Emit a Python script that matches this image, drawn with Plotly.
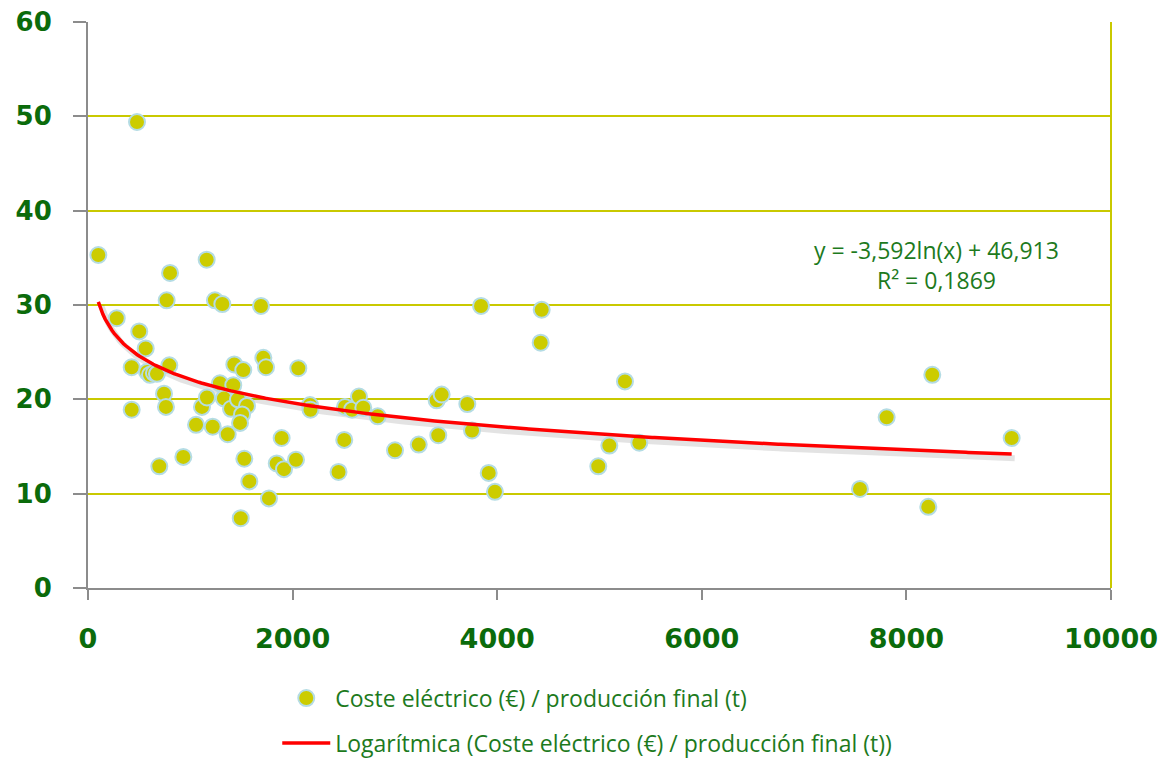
import numpy as np
import plotly.graph_objects as go

# Producción final (t) y coste eléctrico por tonelada (€/t)
produccion = [101, 479, 281, 501, 564, 427, 427, 577, 606, 645, 674, 795, 743, 762, 697,
              802, 769, 1160, 1241, 1313, 1691, 932, 1056, 1114, 1163, 1219, 1290, 1329,
              1420, 1398, 1366, 1430, 1518, 1466, 1554, 1506, 1486, 1528, 1577, 1493,
              1714, 1740, 1769, 1845, 1893, 1916, 2033, 2056, 2170, 2175, 2449, 2505,
              2512, 2581, 2649, 2691, 2832, 3001, 3233, 3424, 3408, 3457, 3708, 3754,
              3842, 3917, 3978, 4435, 4425, 4988, 5096, 5249, 5389, 7546, 7807, 8214,
              8253, 9029]
coste = [35.3, 49.4, 28.6, 27.2, 25.4, 23.4, 18.9, 22.9, 22.6, 22.8, 22.7, 23.6, 20.6, 19.2, 12.9,
         33.4, 30.5, 34.8, 30.5, 30.1, 29.9, 13.9, 17.3, 19.2, 20.2, 17.1, 21.7, 20.1,
         21.5, 19.0, 16.3, 23.7, 23.1, 20.0, 19.3, 18.4, 17.5, 13.7, 11.3, 7.4,
         24.4, 23.4, 9.5, 13.2, 15.9, 12.6, 13.6, 23.3, 19.4, 18.9, 12.3, 15.7,
         19.2, 18.9, 20.3, 19.1, 18.2, 14.6, 15.2, 16.2, 19.9, 20.5, 19.5, 16.7,
         29.9, 12.2, 10.2, 29.5, 26.0, 12.9, 15.1, 21.9, 15.4, 10.5, 18.1, 8.6,
         22.6, 15.9]

# Ajuste logarítmico: y = a ln(x) + b
coef_a = -3.592
coef_b = 46.913
r2 = 0.1869

x_tick_vals = [0, 2000, 4000, 6000, 8000, 10000]
x_tick_text = ["0", "2000", "4000", "6000", "8000", "10000"]
y_tick_vals = [0, 10, 20, 30, 40, 50, 60]

GREEN_DARK = "#0b6b0b"
GREEN_TEXT = "#1d7a1d"
GRID = "#c9c900"
AXIS = "#8c8c8c"
TEXT_FONT = "Open Sans"

x_fit = np.linspace(min(produccion), max(produccion), 400)
y_fit = coef_a * np.log(x_fit) + coef_b

fig = go.Figure()

# soft shadow under the trend line
fig.add_trace(go.Scatter(
    x=x_fit + 30, y=y_fit - 0.45, mode="lines",
    line=dict(color="rgba(0,0,0,0.11)", width=6),
    hoverinfo="skip", showlegend=False,
))

fig.add_trace(go.Scatter(
    x=produccion, y=coste, mode="markers",
    name="Coste eléctrico (€) / producción final (t)",
    legendgroup="a",
    marker=dict(color="#cccc00", size=16, line=dict(color="#b4dce4", width=2)),
))

fig.add_trace(go.Scatter(
    x=x_fit, y=y_fit, mode="lines",
    name="Logarítmica (Coste eléctrico (€) / producción final (t))",
    legendgroup="b",
    line=dict(color="#ff0000", width=3.5),
))

fig.add_annotation(
    x=0.829, y=0.571, xref="paper", yref="paper",
    xanchor="center", yanchor="middle",
    text=f"y = {coef_a:.3f}ln(x) + {coef_b:.3f}".replace(".", ",")
         + "<br>" + f"R² = {r2:.4f}".replace(".", ","),
    showarrow=False, align="center",
    font=dict(family=TEXT_FONT, size=23, color=GREEN_TEXT),
)

# right border of the plot area
fig.add_shape(type="line", xref="paper", yref="paper", x0=1, x1=1, y0=0, y1=1,
              line=dict(color=GRID, width=2))

fig.update_layout(
    width=1162, height=760,
    margin=dict(l=88, r=51, t=22, b=172, autoexpand=False),
    paper_bgcolor="white", plot_bgcolor="white",
    showlegend=True,
    legend=dict(
        x=0.185, y=-0.312, xanchor="left", yanchor="bottom",
        font=dict(family=TEXT_FONT, size=23, color=GREEN_TEXT),
        tracegroupgap=12, itemwidth=48, bgcolor="rgba(0,0,0,0)",
    ),
    xaxis=dict(
        range=[0, 10000], tickvals=x_tick_vals, ticktext=x_tick_text,
        showgrid=False, zeroline=False,
        showline=True, linecolor=AXIS, linewidth=2,
        ticks="outside", ticklen=10, tickcolor=AXIS, tickwidth=2,
        ticklabelstandoff=16,
        tickfont=dict(family="DejaVu Sans", size=27, color=GREEN_DARK, weight="bold"),
    ),
    yaxis=dict(
        range=[0, 60], tickvals=y_tick_vals,
        showgrid=True, gridcolor=GRID, gridwidth=2, zeroline=False,
        showline=True, linecolor=AXIS, linewidth=2,
        ticks="outside", ticklen=13, tickcolor=AXIS, tickwidth=2,
        ticklabelstandoff=16,
        tickfont=dict(family="DejaVu Sans", size=26, color=GREEN_DARK, weight="bold"),
    ),
)

fig.write_html("out.html")
